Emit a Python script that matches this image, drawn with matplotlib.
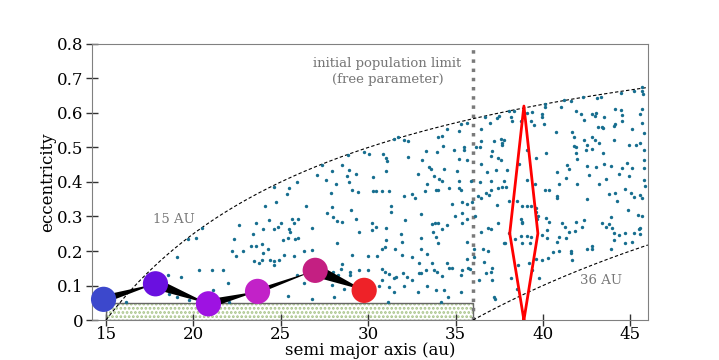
import numpy as np
import matplotlib
matplotlib.use("Agg")
import matplotlib.pyplot as plt
from matplotlib.patches import Rectangle

plt.rcParams['font.family'] = ['DejaVu Serif']
plt.rcParams['hatch.linewidth'] = 1.3

# scattered objects (semi major axis, eccentricity)
tno_a = [35.29, 35.20, 34.53, 34.25, 34.02, 35.49, 35.49, 34.30, 34.91, 33.30, 33.94, 32.25, 33.10, 35.20,
         35.67, 33.48, 33.58, 34.36, 32.87, 33.79, 35.10, 34.06, 33.39, 34.25, 31.48, 31.73, 32.06, 32.25,
         30.82, 31.01, 31.05, 30.06, 29.77, 28.82, 28.48, 27.35, 27.92, 28.88, 29.30, 28.76, 27.07, 30.25,
         31.01, 25.90, 27.58, 28.88, 28.15, 24.60,
         25.33, 25.48, 27.86, 29.10, 29.44, 30.30, 30.43, 30.81, 31.20, 32.05, 32.53, 32.68, 33.23, 33.86,
         34.02, 34.62, 35.20, 35.29, 26.47, 27.92, 34.82, 35.35, 35.67, 27.67, 27.96, 28.24, 28.49, 29.01,
         29.29, 31.29, 31.29, 33.04, 35.39, 34.97, 25.01, 25.67, 25.77, 26.01, 25.48, 25.52, 26.81, 29.48,
         30.21, 30.43, 30.24, 31.04, 32.11, 33.67, 33.82, 34.02, 34.53, 34.24, 33.71, 35.35, 35.67, 25.10,
         25.39, 25.82, 26.01, 28.19, 31.01, 31.88, 31.96, 33.01, 33.90, 34.02, 26.34, 26.81, 30.81, 30.97,
         31.54, 33.01, 31.96, 32.53, 33.39, 33.63, 32.91, 25.77, 25.20, 29.10, 30.01, 30.53, 34.53, 34.62,
         34.78, 35.67, 25.90, 26.34, 28.53, 28.43, 28.00, 28.30, 28.95, 28.97, 29.48, 30.01, 30.81, 30.97,
         30.78, 31.20, 31.48, 31.62, 32.00, 32.24, 32.49, 32.91, 33.01, 33.29, 33.77, 33.96, 34.24, 35.35,
         35.29, 27.92, 28.05, 28.62, 29.48, 30.62, 31.20, 31.48, 32.05, 32.87, 33.39, 33.86, 34.34, 34.59,
         35.29, 26.81, 25.39, 31.16, 34.15,
         24.11, 24.72, 22.63, 23.58, 24.34, 22.34, 23.39, 23.96, 24.63, 24.82, 19.68, 20.15, 20.49, 19.05,
         20.30, 21.07, 21.68, 22.21, 22.82, 22.44, 23.30, 23.58, 23.92, 24.25, 24.00, 23.77, 23.49, 23.92,
         24.38, 24.63, 24.63, 24.91, 19.30, 18.53, 21.96, 21.14, 18.63, 19.05, 19.73, 22.06, 16.15,
         45.64, 45.68, 45.71, 45.20, 44.44, 43.30, 43.10, 42.29, 41.58, 41.20, 41.01, 40.11, 40.11, 39.39,
         39.10, 38.34, 38.06, 38.15, 37.49, 37.39, 36.69, 35.68, 36.44, 36.97, 38.25, 38.72, 39.30, 39.49,
         39.96, 39.96, 40.06, 40.72, 41.87, 42.15, 42.34, 42.82, 43.01, 42.97, 43.49, 43.16, 43.39, 43.43,
         44.15, 44.44, 44.53, 44.15, 44.06, 44.53, 45.64, 45.58, 45.68, 45.10, 45.77, 45.77, 41.68, 41.77,
         42.34, 42.82, 42.97, 42.53, 42.78, 43.20, 43.43, 44.06, 44.91, 45.30, 45.58, 37.58, 37.77, 37.20,
         37.64, 37.68, 37.10, 37.01, 37.45, 37.58, 36.44, 36.15, 36.38, 36.48, 37.33, 37.96, 38.63, 39.10,
         39.58, 40.15, 40.82, 41.30, 41.87, 41.87, 42.44, 41.96, 42.53, 43.05, 43.49, 43.87, 44.53, 44.82,
         45.10, 45.77, 45.77, 44.34, 44.91, 45.77, 42.63, 43.58, 41.96, 41.39, 41.49, 37.77, 36.82, 36.38,
         41.77,
         35.20, 35.87, 37.01, 37.45, 37.64, 37.87, 39.10, 39.54, 40.11, 40.34, 40.91, 43.20, 44.11, 44.69,
         45.83, 35.96, 36.30, 36.44, 36.91, 37.01, 36.72, 37.39, 38.06, 38.53, 38.78, 39.10, 39.30, 39.58,
         39.62, 40.82, 40.82, 42.53, 43.77, 44.25, 45.01, 45.20, 45.58, 45.68, 44.88, 45.45, 45.68, 36.11,
         37.45, 38.72, 38.78, 38.82, 39.68, 39.73, 40.34, 40.19, 41.07, 41.26, 41.49, 41.33, 41.87, 41.83,
         42.34, 42.25, 43.39, 43.58, 43.77, 43.92, 44.06, 44.34, 44.72, 45.20, 45.49, 45.58, 43.96, 36.44,
         36.88, 37.01, 38.06, 37.83, 38.40, 38.72, 38.82, 39.10, 39.24, 39.30, 39.96, 40.25, 40.82, 40.57,
         40.91, 41.58, 41.58, 42.53, 42.78, 42.82, 43.87, 44.72, 45.10, 45.58, 41.68, 39.96, 39.62, 40.30,
         39.20, 38.59, 39.39, 37.77, 35.68, 36.06, 36.57, 36.88, 35.73, 35.81, 36.06, 36.63, 37.07, 37.01,
         36.72, 37.10, 36.34, 38.15, 38.53, 37.20, 37.26, 39.77, 40.91, 40.25, 44.06]
tno_e = [0.567, 0.548, 0.554, 0.533, 0.530, 0.502, 0.494, 0.504, 0.494, 0.489, 0.488, 0.473, 0.463, 0.468,
         0.463, 0.444, 0.438, 0.438, 0.423, 0.418, 0.431, 0.409, 0.395, 0.402, 0.525, 0.529, 0.523, 0.519,
         0.480, 0.470, 0.460, 0.480, 0.487, 0.477, 0.450, 0.448, 0.431, 0.436, 0.424, 0.417, 0.421, 0.413,
         0.433, 0.399, 0.405, 0.401, 0.394, 0.385,
         0.366, 0.382, 0.368, 0.378, 0.371, 0.375, 0.375, 0.375, 0.375, 0.358, 0.366, 0.353, 0.373, 0.378,
         0.376, 0.382, 0.382, 0.378, 0.331, 0.327, 0.337, 0.342, 0.337, 0.310, 0.298, 0.288, 0.285, 0.319,
         0.292, 0.329, 0.312, 0.308, 0.311, 0.300, 0.280, 0.292, 0.282, 0.292, 0.263, 0.256, 0.266, 0.256,
         0.282, 0.271, 0.261, 0.268, 0.290, 0.277, 0.280, 0.282, 0.275, 0.263, 0.254, 0.282, 0.292, 0.232,
         0.237, 0.234, 0.237, 0.222, 0.232, 0.249, 0.227, 0.237, 0.242, 0.222, 0.201, 0.203, 0.207, 0.212,
         0.205, 0.206, 0.188, 0.183, 0.191, 0.166, 0.164, 0.185, 0.188, 0.188, 0.185, 0.185, 0.166, 0.152,
         0.152, 0.178, 0.130, 0.106, 0.162, 0.149, 0.139, 0.130, 0.139, 0.130, 0.146, 0.144, 0.149, 0.139,
         0.117, 0.132, 0.122, 0.125, 0.137, 0.125, 0.117, 0.137, 0.135, 0.144, 0.144, 0.139, 0.127, 0.144,
         0.130, 0.101, 0.067, 0.091, 0.101, 0.098, 0.096, 0.081, 0.098, 0.081, 0.098, 0.086, 0.088, 0.067,
         0.081, 0.062, 0.071, 0.052, 0.052,
         0.331, 0.341, 0.275, 0.280, 0.290, 0.234, 0.248, 0.263, 0.263, 0.269, 0.234, 0.239, 0.268, 0.183,
         0.146, 0.146, 0.146, 0.200, 0.201, 0.185, 0.214, 0.214, 0.219, 0.205, 0.195, 0.166, 0.171, 0.173,
         0.173, 0.159, 0.172, 0.173, 0.125, 0.130, 0.107, 0.086, 0.074, 0.067, 0.057, 0.052, 0.052,
         0.674, 0.664, 0.655, 0.664, 0.658, 0.645, 0.642, 0.645, 0.635, 0.638, 0.616, 0.625, 0.616, 0.603,
         0.599, 0.606, 0.606, 0.587, 0.591, 0.584, 0.587, 0.572, 0.553, 0.570, 0.577, 0.577, 0.577, 0.564,
         0.596, 0.587, 0.567, 0.545, 0.606, 0.596, 0.580, 0.596, 0.599, 0.590, 0.589, 0.560, 0.560, 0.555,
         0.611, 0.608, 0.594, 0.567, 0.562, 0.577, 0.611, 0.596, 0.572, 0.553, 0.541, 0.494, 0.545, 0.531,
         0.523, 0.531, 0.523, 0.506, 0.496, 0.514, 0.485, 0.523, 0.506, 0.506, 0.514, 0.525, 0.523, 0.519,
         0.514, 0.506, 0.489, 0.475, 0.470, 0.465, 0.519, 0.502, 0.502, 0.453, 0.436, 0.436, 0.451, 0.494,
         0.470, 0.483, 0.428, 0.412, 0.502, 0.483, 0.494, 0.467, 0.446, 0.444, 0.451, 0.446, 0.441, 0.455,
         0.441, 0.465, 0.441, 0.424, 0.417, 0.407, 0.421, 0.409, 0.395, 0.448, 0.438, 0.402, 0.428, 0.399,
         0.504,
         0.402, 0.402, 0.402, 0.382, 0.385, 0.385, 0.407, 0.395, 0.376, 0.378, 0.395, 0.395, 0.368, 0.379,
         0.387, 0.341, 0.358, 0.353, 0.363, 0.378, 0.368, 0.334, 0.344, 0.344, 0.329, 0.329, 0.329, 0.324,
         0.314, 0.360, 0.353, 0.350, 0.366, 0.344, 0.368, 0.356, 0.363, 0.353, 0.319, 0.305, 0.300, 0.300,
         0.280, 0.292, 0.285, 0.280, 0.292, 0.302, 0.285, 0.295, 0.280, 0.271, 0.256, 0.237, 0.285, 0.259,
         0.290, 0.271, 0.282, 0.271, 0.278, 0.298, 0.251, 0.246, 0.253, 0.253, 0.263, 0.266, 0.266, 0.256,
         0.266, 0.263, 0.253, 0.224, 0.234, 0.243, 0.224, 0.243, 0.224, 0.241, 0.246, 0.237, 0.227, 0.198,
         0.201, 0.201, 0.195, 0.205, 0.214, 0.207, 0.207, 0.224, 0.227, 0.249, 0.175, 0.175, 0.178, 0.181,
         0.164, 0.159, 0.144, 0.224, 0.227, 0.207, 0.207, 0.201, 0.152, 0.149, 0.183, 0.169, 0.152, 0.139,
         0.137, 0.117, 0.117, 0.123, 0.091, 0.068, 0.062, 0.123, 0.240, 0.261, 0.232]

# giant planets on their migration path
planet_a = [14.86, 17.83, 20.86, 23.67, 26.97, 29.77]
planet_e = [0.060, 0.105, 0.047, 0.083, 0.144, 0.086]
planet_colors = ['#3c48cc', '#6a10e0', '#9e12e2', '#c222c8', '#c41f82', '#ee2228']
wedge_width_px = [8, 11, 9, 5, 13]

# perihelion limits (au)
q_limits = [15, 36]

# red path of a resonant object
path_a = [38.91, 38.10, 38.91, 39.71, 38.91]
path_e = [0.0, 0.251, 0.620, 0.251, 0.0]

init_limit_a = 36.0
init_box = (15.0, 36.0, 0.05)

fig = plt.figure(figsize=(7.19, 3.6), dpi=100)
ax = fig.add_axes([0.128, 0.111, 0.773, 0.767])
ax.set_xlim(14.2, 46)
ax.set_ylim(0, 0.8)

# initial disk of planetesimals, drawn as a speckle texture
x0, x1, h = init_box
ax.add_patch(Rectangle((x0, 0), x1 - x0, h, facecolor='none', edgecolor='#a6c286',
                       hatch='....', linewidth=0, zorder=1))
ax.add_patch(Rectangle((x0, 0), x1 - x0, h, fill=False, edgecolor='#666666',
                       linewidth=1.0, zorder=2))

# q = const curves
for q in q_limits:
    aa = np.linspace(q, 46, 300)
    ax.plot(aa, 1 - q / aa, ls=(0, (3, 2)), color='black', lw=0.8, zorder=3)

ax.axvline(init_limit_a, color='#7a7a7a', ls=':', lw=2.5, zorder=2)

ax.scatter(tno_a, tno_e, s=6, color='#176e8f', linewidths=0, zorder=4)

ax.plot(path_a, path_e, color='#ff0000', lw=2.0, zorder=5)

# wedges between planets (width given in pixels)
trans = ax.transData
for i in range(len(planet_a) - 1):
    p0 = trans.transform((planet_a[i], planet_e[i]))
    p1 = trans.transform((planet_a[i + 1], planet_e[i + 1]))
    d = (p1 - p0) / np.hypot(*(p1 - p0))
    n = np.array([-d[1], d[0]]) * wedge_width_px[i] / 2
    tri = trans.inverted().transform(np.array([p0 + n, p0 - n, p1]))
    ax.fill(tri[:, 0], tri[:, 1], color='black', lw=0, zorder=6)

ax.scatter(planet_a, planet_e, s=330, c=planet_colors, linewidths=0, zorder=7, clip_on=False)

ax.text(31.1, 0.72, 'initial population limit\n(free parameter)', color='#777777',
        fontsize=9.5, ha='center', va='center', linespacing=1.3)
ax.text(18.9, 0.29, '15 AU', color='#777777', fontsize=9.5, ha='center', va='center')
ax.text(43.35, 0.115, '36 AU', color='#777777', fontsize=9.5, ha='center', va='center')

ax.set_xticks([15, 20, 25, 30, 35, 40, 45])
ax.set_yticks([0, 0.1, 0.2, 0.3, 0.4, 0.5, 0.6, 0.7, 0.8])
ax.set_yticklabels(['0', '0.1', '0.2', '0.3', '0.4', '0.5', '0.6', '0.7', '0.8'])
ax.tick_params(direction='inout', length=9, width=1, color='#333333', labelsize=12)
ax.tick_params(axis='x', pad=0)
ax.tick_params(axis='y', pad=2)
for sp in ax.spines.values():
    sp.set_color('#808080')
ax.set_xlabel('semi major axis (au)', fontsize=12, labelpad=-1)
ax.set_ylabel('eccentricity', fontsize=12, labelpad=0)

fig.savefig('out.png', dpi=100)
